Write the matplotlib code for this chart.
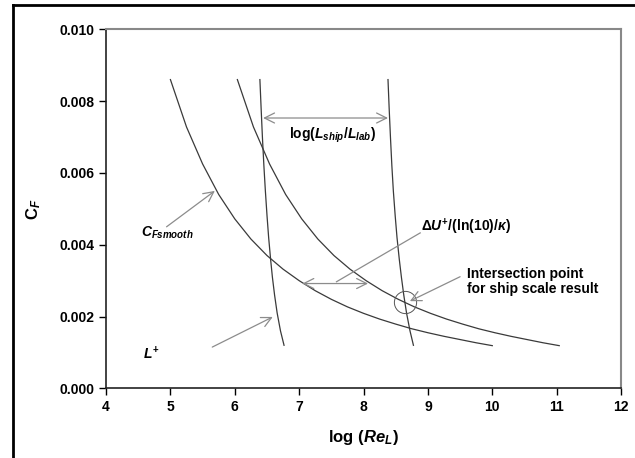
import matplotlib
matplotlib.use("Agg")
import matplotlib.pyplot as plt
from matplotlib.lines import Line2D

plt.rcParams["font.family"] = ["Liberation Sans", "DejaVu Sans"]
plt.rcParams["font.weight"] = "bold"
plt.rcParams["mathtext.fontset"] = "custom"
plt.rcParams["mathtext.rm"] = "Liberation Sans:bold"
plt.rcParams["mathtext.it"] = "Liberation Sans:bold:italic"
plt.rcParams["mathtext.bf"] = "Liberation Sans:bold"

# --- data ---
# smooth-plate friction line
smooth_x = [5.0, 5.25, 5.5, 5.75, 6.0, 6.25, 6.5, 6.75, 7.0, 7.25, 7.5,
            7.75, 8.0, 8.25, 8.5, 8.75, 9.0, 9.25, 9.5, 9.75, 10.0]
smooth_cf = [0.00860, 0.00728, 0.00625, 0.00540, 0.00472, 0.00416, 0.00370,
             0.00332, 0.00300, 0.00272, 0.00248, 0.00227, 0.00209, 0.00193,
             0.00179, 0.00166, 0.00155, 0.00145, 0.00136, 0.00127, 0.00119]

# shifted friction line (by dU+/(ln10/kappa))
shifted_x = [6.04, 6.29, 6.54, 6.79, 7.04, 7.29, 7.54, 7.79, 8.04, 8.29, 8.54,
             8.79, 9.04, 9.29, 9.54, 9.79, 10.04, 10.29, 10.54, 10.79, 11.04]
shifted_cf = [0.00860, 0.00728, 0.00625, 0.00540, 0.00472, 0.00416, 0.00370,
              0.00332, 0.00300, 0.00272, 0.00248, 0.00227, 0.00209, 0.00193,
              0.00179, 0.00166, 0.00155, 0.00145, 0.00136, 0.00127, 0.00119]

# L+ lines (lab and ship)
lplus_cf = [0.0086, 0.0078, 0.0070, 0.0062, 0.0055, 0.0048, 0.0042,
            0.0036, 0.0031, 0.0026, 0.0021, 0.0016, 0.0012]
lab_x = [6.390, 6.409, 6.429, 6.452, 6.475, 6.501, 6.526,
         6.556, 6.584, 6.618, 6.658, 6.710, 6.765]
ship_x = [8.380, 8.398, 8.418, 8.440, 8.463, 8.492, 8.520,
          8.555, 8.588, 8.625, 8.668, 8.722, 8.775]

# intersection point for ship scale
cross_x = 8.65
cross_cf = 0.00240

x_ticks = [4, 5, 6, 7, 8, 9, 10, 11, 12]
y_ticks = [0.000, 0.002, 0.004, 0.006, 0.008, 0.010]

CURVE = "#3a3a3a"
ARROW = "#8c8c8c"


def main():
    fig = plt.figure(figsize=(6.35, 4.58), dpi=100)
    ax = fig.add_axes([0.167, 0.152, 0.811, 0.784])

    for xs, ys in [(smooth_x, smooth_cf), (shifted_x, shifted_cf),
                   (lab_x, lplus_cf), (ship_x, lplus_cf)]:
        ax.plot(xs, ys, color=CURVE, lw=0.9)

    ax.plot([cross_x], [cross_cf], marker="o", ms=16, mfc="none",
            mec="#555555", mew=0.7)

    ax.set_xlim(4, 12)
    ax.set_ylim(0, 0.010)
    ax.set_xticks(x_ticks)
    ax.set_yticks(y_ticks)
    ax.set_xticklabels([str(t) for t in x_ticks])
    ax.set_yticklabels([f"{t:.3f}" for t in y_ticks])
    ax.tick_params(direction="out", length=5, width=1, labelsize=10)

    for s in ["left", "bottom"]:
        ax.spines[s].set_color("#222222")
        ax.spines[s].set_linewidth(1.2)
    for s in ["top", "right"]:
        ax.spines[s].set_color("#888888")
        ax.spines[s].set_linewidth(1.5)

    ax.set_xlabel(r"$\mathrm{log\ (}Re_L\mathrm{)}$", fontsize=12, labelpad=10)
    ax.set_ylabel(r"$\mathrm{C}_F$", fontsize=12, labelpad=12)

    head = dict(arrowstyle="->", color=ARROW, lw=0.9,
                shrinkA=0, shrinkB=0, mutation_scale=18)
    both = dict(head, arrowstyle="<->")

    # log(Lship/Llab)
    ax.annotate("", xy=(8.38, 0.00753), xytext=(6.44, 0.00753), arrowprops=both)
    ax.text(7.52, 0.00705, r"$\mathrm{log(}L_{ship}/L_{lab}\mathrm{)}$",
            fontsize=10, ha="center", va="center")

    # CFsmooth
    ax.annotate("", xy=(5.69, 0.00550), xytext=(4.94, 0.0045), arrowprops=head)
    ax.text(4.55, 0.00432, r"$C_{Fsmooth}$", fontsize=10, ha="left", va="center")

    # L+
    ax.annotate("", xy=(6.59, 0.00199), xytext=(5.65, 0.00115), arrowprops=head)
    ax.text(4.58, 0.00098, r"$L^{+}$", fontsize=10, ha="left", va="center")

    # dU+/(ln(10)/kappa)
    ax.annotate("", xy=(8.07, 0.00292), xytext=(7.05, 0.00292), arrowprops=both)
    ax.plot([7.58, 8.88], [0.00297, 0.00433], color=ARROW, lw=0.9)
    ax.text(8.9, 0.00449, r"$\Delta U^{+}/(\mathrm{ln(10)}/\kappa)$",
            fontsize=10, ha="left", va="center")

    # intersection point
    ax.annotate("", xy=(8.72, 0.00243), xytext=(9.5, 0.00311), arrowprops=head)
    ax.text(9.6, 0.00297, "Intersection point\nfor ship scale result",
            fontsize=10, ha="left", va="center", linespacing=1.1)

    # outer frame of the original figure (left and top)
    fig.add_artist(Line2D([0.02, 0.02], [0.0, 0.99], color="black", lw=2,
                          transform=fig.transFigure))
    fig.add_artist(Line2D([0.02, 1.0], [0.99, 0.99], color="black", lw=2,
                          transform=fig.transFigure))

    fig.savefig("out.png", dpi=100)
    plt.close(fig)


if __name__ == "__main__":
    main()
